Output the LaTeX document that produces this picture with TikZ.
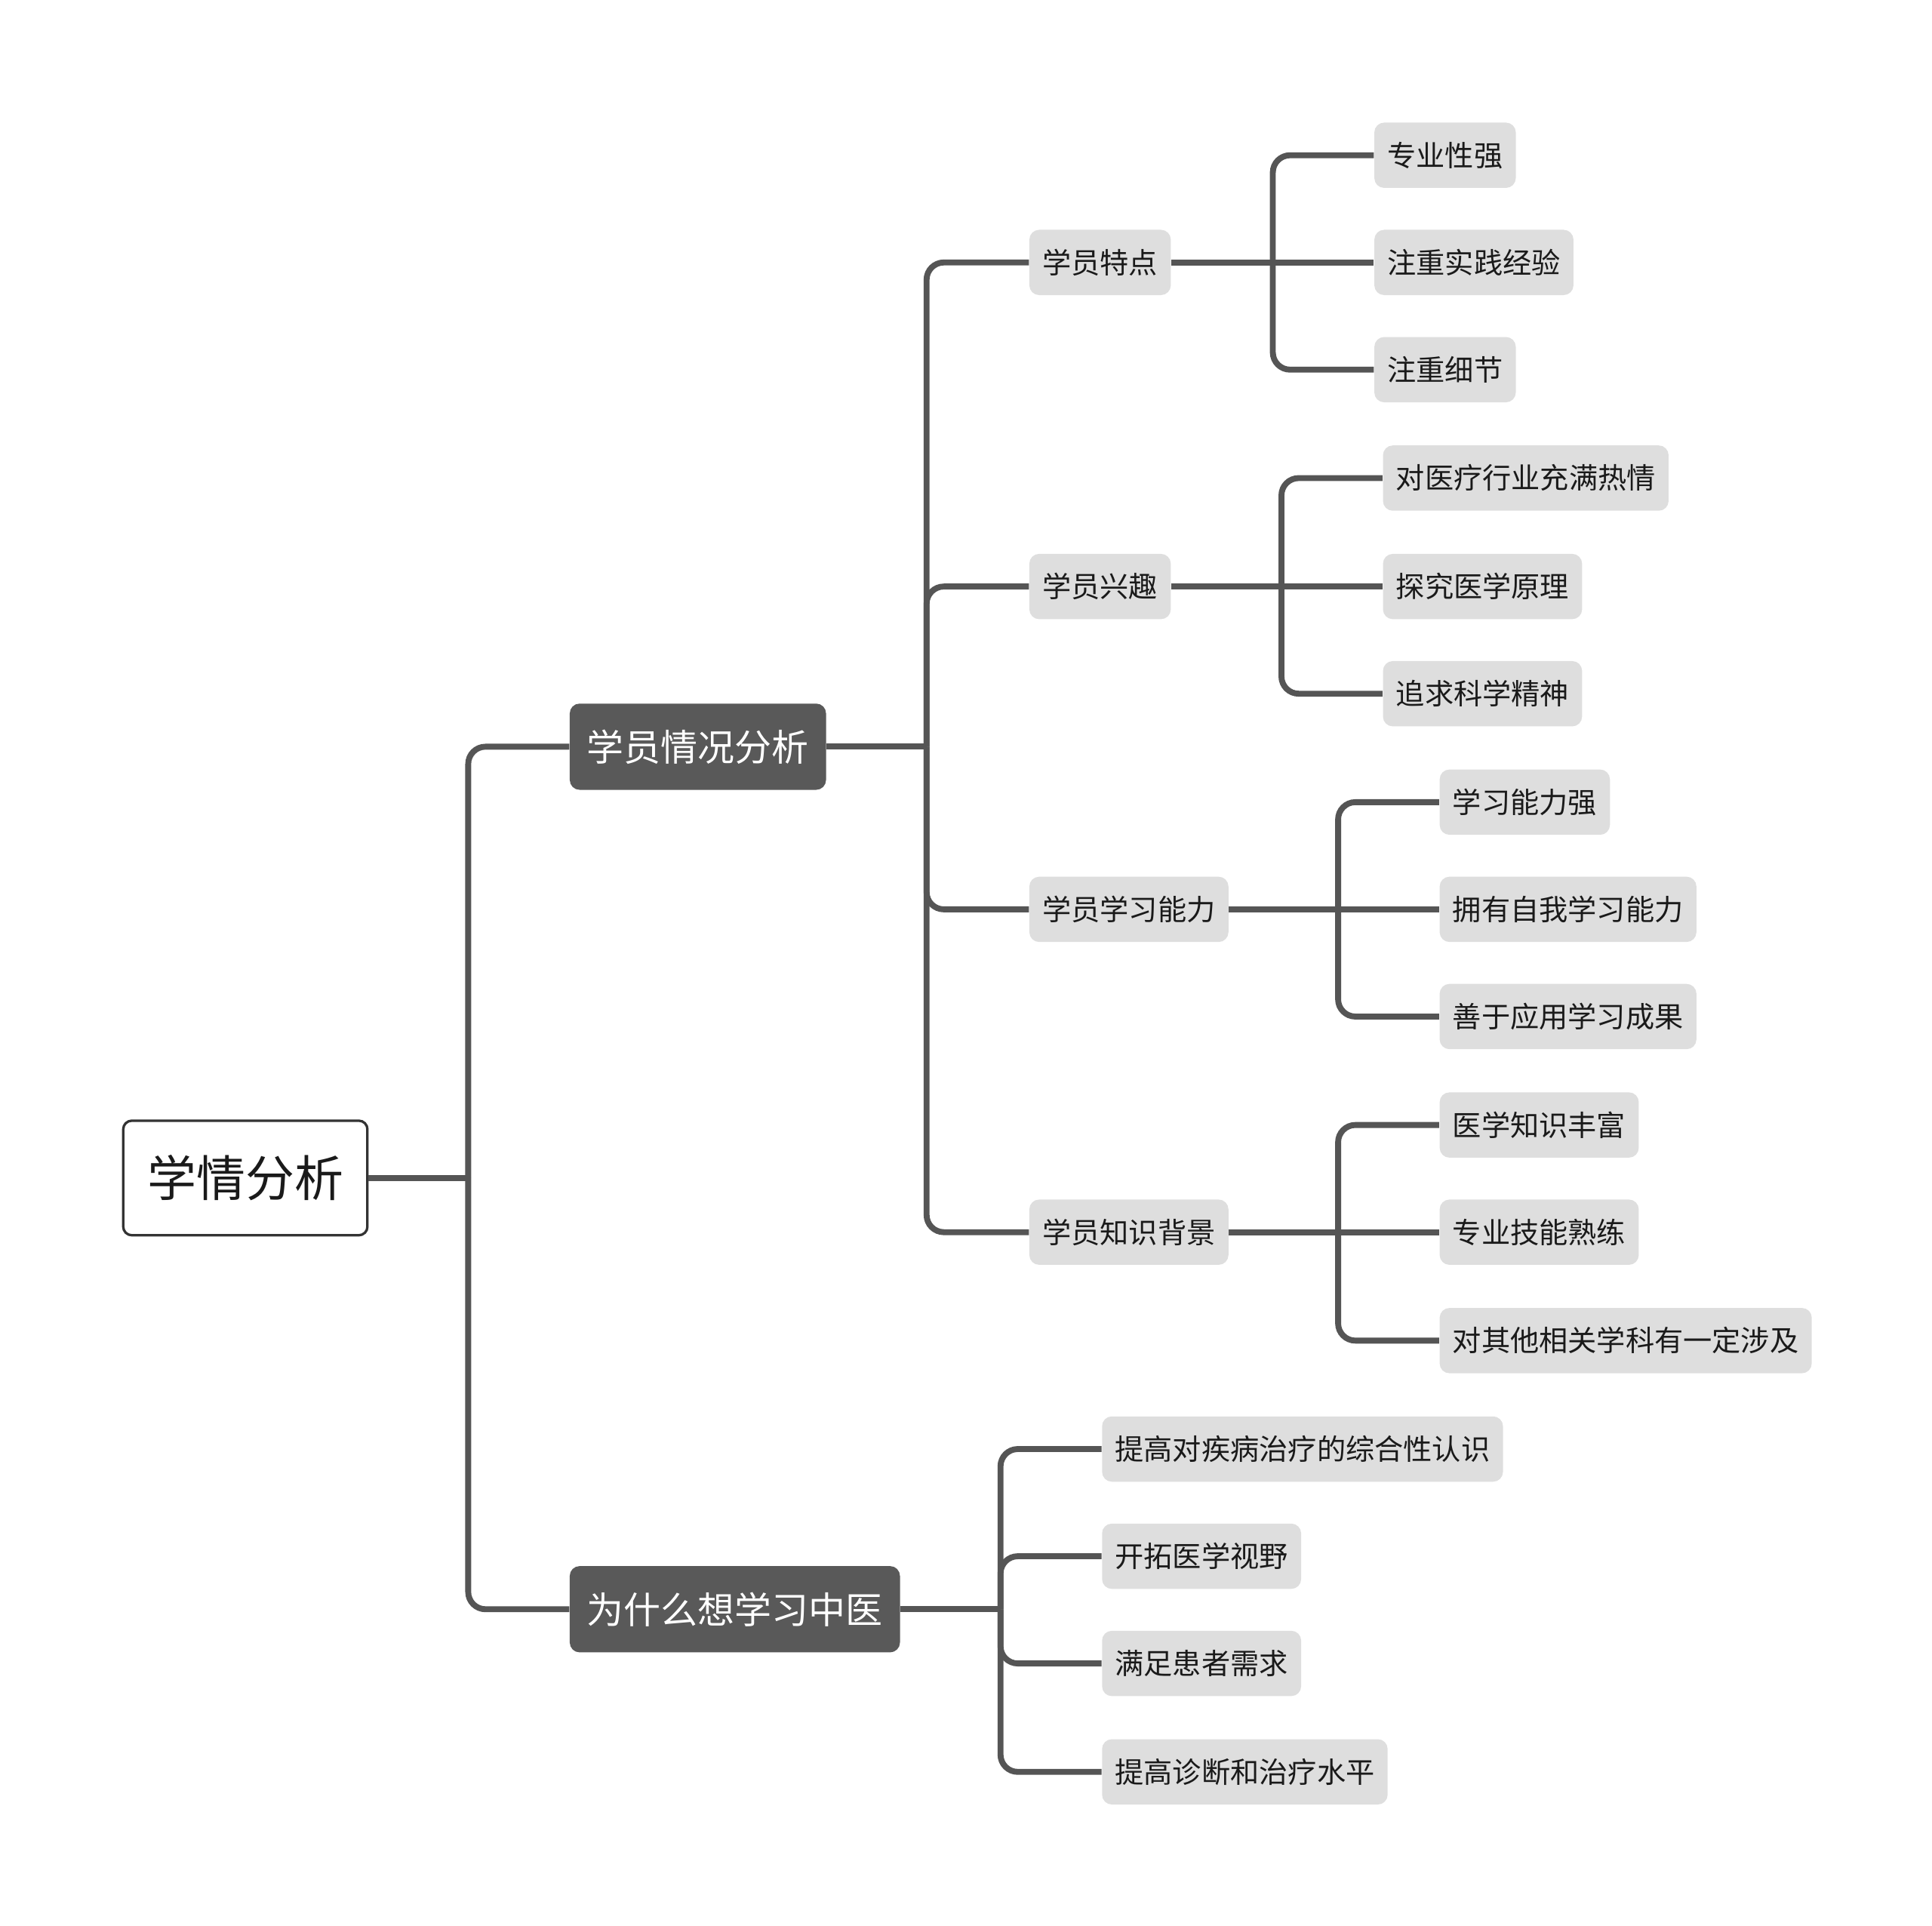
\documentclass[tikz,border=0pt]{standalone}
\usepackage{fontspec}
\setmainfont{Noto Sans CJK SC}
\begin{document}
\begin{tikzpicture}[x=0.5pt,y=-0.5pt,
  conn/.style={draw=linegray,line width=2.4pt,rounded corners=7pt},
  rootbox/.style={draw=rootgray,line width=1pt,fill=white,rounded corners=3.5pt,
    font=\fontsize{19.9pt}{24pt}\selectfont,text=textdark,inner xsep=9.75pt,inner ysep=0pt,
    minimum height=46.5pt,anchor=west},
  lonebox/.style={fill=boxdark,text=white,rounded corners=4pt,
    font=\fontsize{15pt}{18pt}\selectfont,inner xsep=7pt,inner ysep=0pt,
    minimum height=35pt,anchor=west},
  leafbox/.style={fill=leafgray,text=textdark,rounded corners=4pt,
    font=\fontsize{11.7pt}{14pt}\selectfont,inner xsep=5.3pt,inner ysep=0pt,
    minimum height=26.5pt,anchor=west}]
\definecolor{linegray}{HTML}{555555}
\definecolor{rootgray}{HTML}{333333}
\definecolor{boxdark}{HTML}{595959}
\definecolor{leafgray}{HTML}{DEDEDE}
\definecolor{textdark}{HTML}{1A1A1A}
\useasboundingbox (0,0) rectangle (1568,1563);

% junction points
\coordinate (j0) at (380,956);
\coordinate (ja) at (752,606);
\coordinate (jb) at (812,1306);
\coordinate (j1) at (1033,213);
\coordinate (j2) at (1040,476);
\coordinate (j3) at (1086,738);
\coordinate (j4) at (1086,1000);

% nodes
\node[rootbox] (root) at (99,956) {学情分析};
\node[lonebox] (la) at (462,606) {学员情况分析};
\node[lonebox] (lb) at (462,1306) {为什么想学习中医};

\node[leafbox] (a1) at (835,213) {学员特点};
\node[leafbox] (a2) at (835,476) {学员兴趣};
\node[leafbox] (a3) at (835,738) {学员学习能力};
\node[leafbox] (a4) at (835,1000) {学员知识背景};

\node[leafbox] (a11) at (1115,126) {专业性强};
\node[leafbox] (a12) at (1115,213) {注重实践经验};
\node[leafbox] (a13) at (1115,300) {注重细节};
\node[leafbox] (a21) at (1122,388) {对医疗行业充满热情};
\node[leafbox] (a22) at (1122,476) {探究医学原理};
\node[leafbox] (a23) at (1122,563) {追求科学精神};
\node[leafbox] (a31) at (1168,651) {学习能力强};
\node[leafbox] (a32) at (1168,738) {拥有自我学习能力};
\node[leafbox] (a33) at (1168,825) {善于应用学习成果};
\node[leafbox] (a41) at (1168,913) {医学知识丰富};
\node[leafbox] (a42) at (1168,1000) {专业技能熟练};
\node[leafbox] (a43) at (1168,1088) {对其他相关学科有一定涉及};

\node[leafbox] (b1) at (894,1176) {提高对疾病治疗的综合性认识};
\node[leafbox] (b2) at (894,1263) {开拓医学视野};
\node[leafbox] (b3) at (894,1350) {满足患者需求};
\node[leafbox] (b4) at (894,1438) {提高诊断和治疗水平};

% connectors
\draw[conn] (root.east) -- (j0);
\draw[conn] (j0) |- (la.west);
\draw[conn] (j0) |- (lb.west);

\draw[conn] (la.east) -- (ja);
\foreach \c in {a1,a2,a3,a4} \draw[conn] (ja) |- (\c.west);

\draw[conn] (lb.east) -- (jb);
\foreach \c in {b1,b2,b3,b4} \draw[conn] (jb) |- (\c.west);

\draw[conn] (a1.east) -- (j1);
\draw[conn] (j1) |- (a11.west);
\draw[conn] (j1) -- (a12.west);
\draw[conn] (j1) |- (a13.west);

\draw[conn] (a2.east) -- (j2);
\draw[conn] (j2) |- (a21.west);
\draw[conn] (j2) -- (a22.west);
\draw[conn] (j2) |- (a23.west);

\draw[conn] (a3.east) -- (j3);
\draw[conn] (j3) |- (a31.west);
\draw[conn] (j3) -- (a32.west);
\draw[conn] (j3) |- (a33.west);

\draw[conn] (a4.east) -- (j4);
\draw[conn] (j4) |- (a41.west);
\draw[conn] (j4) -- (a42.west);
\draw[conn] (j4) |- (a43.west);
\end{tikzpicture}
\end{document}
